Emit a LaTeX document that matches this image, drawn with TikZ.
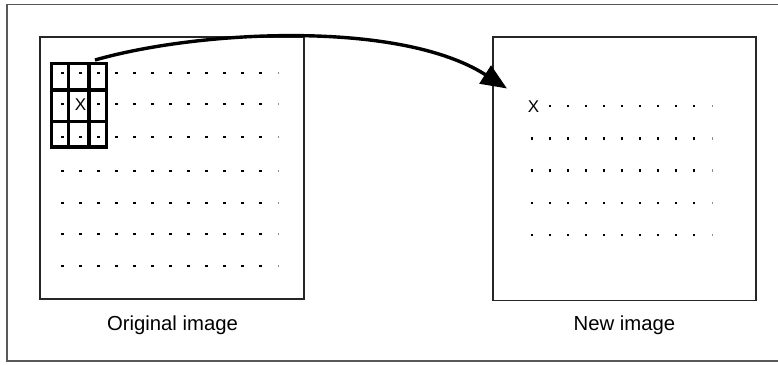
\documentclass[tikz,border=0pt]{standalone}
\usepackage{fontspec}
\setmainfont{Liberation Sans}
\usetikzlibrary{arrows.meta}
\tikzset{
  frame/.style={draw=black!65, line width=1.8pt},
  imgbox/.style={draw=black!85, line width=1.3pt},
  kernel/.style={draw=black, line width=3.4pt, line cap=rect},
  dotmark/.style={fill=black},
  lastdot/.style={fill=black!45},
  caption/.style={font=\fontsize{20.3}{24}\selectfont, inner sep=0pt, anchor=center},
  xmark/.style={font=\fontsize{17}{19}\selectfont, inner sep=0pt, anchor=center},
  bigarrow/.style={line width=3.4pt, -{Triangle[length=26pt,width=21pt]}}
}
\begin{document}
\begin{tikzpicture}[x=1pt,y=-1pt]
\useasboundingbox (0,0) rectangle (778,365);
% outer frame (right side runs off the picture)
\draw[frame] (790,4.5) -- (7,4.5) -- (7,361) -- (790,361);
% image boxes
\draw[imgbox] (40,37) rectangle (304,299);
\draw[imgbox] (493,37) rectangle (756,300.5);
% left grid of dots
\foreach \yy in {73,104,137,171,203,234,266}{
  \foreach \k in {0,...,11}{
    \pgfmathsetmacro{\xx}{62.3+18.03*\k}
    \ifnum\k=1 \ifdim\yy pt=104pt \else
      \fill[dotmark] (\xx-1.2,\yy-1.2) rectangle ++(2.4,2.4);
    \fi\else
      \fill[dotmark] (\xx-1.2,\yy-1.2) rectangle ++(2.4,2.4);
    \fi
  }
  \fill[lastdot] (278.7-0.5,\yy-1.2) rectangle ++(1,2.4);
}
\node[xmark] (xold) at (80.5,104.5) {X};
% kernel 3x3
\draw[kernel] (51.5,63.3) rectangle (106.7,147);
\draw[kernel] (68.7,63.3) -- (68.7,147);
\draw[kernel] (89,63.3) -- (89,147);
\draw[kernel] (51.5,90) -- (106.7,90);
\draw[kernel] (51.5,121.7) -- (106.7,121.7);
% right grid of dots
\foreach \yy in {106,138.3,170.5,203,235}{
  \foreach \k in {0,...,9}{
    \pgfmathsetmacro{\xx}{532+18.03*\k}
    \ifnum\k=0 \ifdim\yy pt=106pt \else
      \fill[dotmark] (\xx-1.2,\yy-1.2) rectangle ++(2.4,2.4);
    \fi\else
      \fill[dotmark] (\xx-1.2,\yy-1.2) rectangle ++(2.4,2.4);
    \fi
  }
  \fill[lastdot] (712.3-0.5,\yy-1.2) rectangle ++(1,2.4);
}
\node[xmark] (xnew) at (533.5,106.5) {X};
% captions
\node[caption] (capold) at (172.5,325) {Original image};
\node[caption] (capnew) at (624.5,325) {New image};
% arrow
\coordinate (astart) at (95,60);
\coordinate (aend) at (507,88.5);
\draw[bigarrow] (astart) .. controls (200,30) and (400,20) .. (aend);
\end{tikzpicture}
\end{document}
